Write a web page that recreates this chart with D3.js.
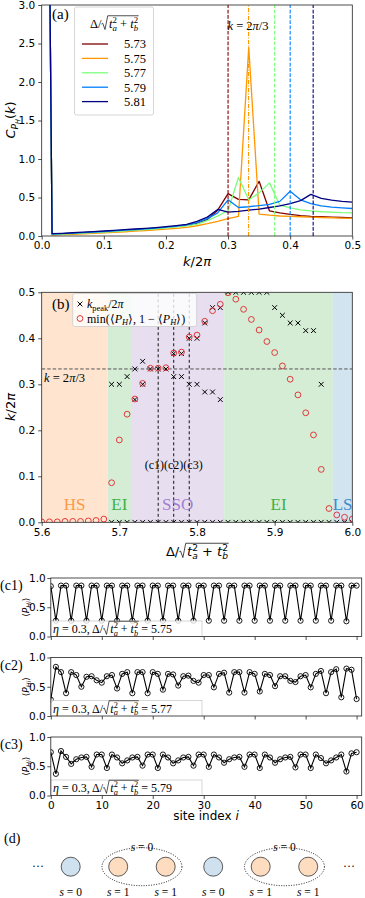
<!DOCTYPE html>
<html>
<head>
<meta charset="utf-8">
<script src="https://cdn.jsdelivr.net/npm/d3@7"></script>
<style>
  body { margin: 0; background: #fff; }
  svg { display: block; }
  text { white-space: pre; }
</style>
</head>
<body>
<svg id="fig" width="365" height="898"></svg>
<script>
var SERIF = "'Liberation Serif', 'Times New Roman', serif";
var SANS = "'DejaVu Sans', sans-serif";

// ---------- (a) structure factor, k/2pi = n/60 ----------
var kGrid = [0, 0.0167, 0.0333, 0.05, 0.0667, 0.0833, 0.1, 0.1167, 0.1333, 0.15, 0.1667,
             0.1833, 0.2, 0.2167, 0.2333, 0.25, 0.2667, 0.2833, 0.3, 0.3167, 0.3333,
             0.35, 0.3667, 0.3833, 0.4, 0.4167, 0.4333, 0.45, 0.4667, 0.4833, 0.5];
var curveLabels = ["5.73", "5.75", "5.77", "5.79", "5.81"];
var curveColors = ["#800000", "#ff9700", "#7bff7b", "#007fff", "#000080"];
var c573 = [15, .024, .029, .035, .042, .049, .056, .064, .072, .081, .09, .1, .111, .124, .139, .165, .215,
            .335, .55, .475, .47, .71, .325, .30, .28, .265, .255, .25, .245, .24, .235];
var c575 = [15, .012, .017, .022, .028, .034, .04, .047, .054, .062, .07, .079, .089, .1, .113, .133, .16,
            .19, .225, .255, 2.45, .285, .27, .26, .255, .25, .245, .24, .237, .233, .23];
var c577 = [15, .02, .025, .031, .037, .043, .05, .058, .066, .075, .084, .094, .105, .118, .132, .155, .2,
            .26, .33, .76, .47, .56, .69, .40, .365, .34, .325, .315, .31, .303, .30];
var c579 = [15, .026, .031, .037, .044, .051, .058, .066, .075, .084, .093, .103, .115, .128, .144, .175, .225,
            .30, .47, .37, .38, .395, .41, .45, .58, .47, .42, .39, .375, .365, .357];
var c581 = [15, .03, .035, .042, .05, .057, .065, .073, .082, .091, .1, .11, .122, .136, .152, .19, .245,
            .345, .31, .32, .335, .35, .37, .39, .42, .46, .54, .49, .465, .45, .44];
var curves = [c573, c575, c577, c579, c581];
var densityLines = [0.300, 0.333, 0.375, 0.400, 0.437];

// ---------- (b) phase diagram ----------
var delta = [5.60, 5.61, 5.62, 5.63, 5.64, 5.65, 5.66, 5.67, 5.68, 5.69, 5.70, 5.71, 5.72, 5.73,
             5.74, 5.75, 5.76, 5.77, 5.78, 5.79, 5.80, 5.81, 5.82, 5.83, 5.84, 5.85, 5.86, 5.87,
             5.88, 5.89, 5.90, 5.91, 5.92, 5.93, 5.94, 5.95, 5.96, 5.97, 5.98, 5.99, 6.00];
var minPH = [0.001, 0.001, 0.001, 0.002, 0.002, 0.002, 0.003, 0.004, 0.007, 0.086, 0.179, 0.235,
             0.268, 0.302, 0.335, 0.335, 0.336, 0.368, 0.370, 0.403, 0.407, 0.437, 0.460, 0.474,
             0.499, 0.485, 0.463, 0.441, 0.418, 0.393, 0.369, 0.340, 0.311, 0.277, 0.238, 0.190,
             0.115, 0.030, 0.016, 0.011, 0.007];
var kPeak = [[5.69, 0.30], [5.70, 0.30], [5.71, 0.3167], [5.72, 0.2667], [5.72, 0.3333],
             [5.73, 0.30], [5.73, 0.35], [5.74, 0.3333], [5.75, 0.3333], [5.76, 0.3333],
             [5.77, 0.3667], [5.77, 0.3167], [5.78, 0.3667], [5.78, 0.3167], [5.79, 0.40],
             [5.79, 0.30], [5.80, 0.40], [5.80, 0.30], [5.81, 0.4333], [5.81, 0.2833],
             [5.82, 0.4667], [5.82, 0.2833], [5.83, 0.4667], [5.83, 0.2667], [5.84, 0.5],
             [5.85, 0.5], [5.86, 0.5], [5.87, 0.5], [5.88, 0.5], [5.89, 0.5], [5.90, 0.4667],
             [5.91, 0.45], [5.92, 0.4333], [5.93, 0.4333], [5.94, 0.4167], [5.95, 0.4167],
             [5.96, 0.30]];
var kPeakZeroFrom = 5.69;
var phases = [
  {name: "HS",  from: 5.600, to: 5.685, fill: "#ffe5cf", text: "#fb9a45"},
  {name: "EI",  from: 5.685, to: 5.715, fill: "#d5ecd5", text: "#3fb045"},
  {name: "SSO", from: 5.715, to: 5.835, fill: "#e7dff0", text: "#a27fd2"},
  {name: "EI",  from: 5.835, to: 5.975, fill: "#d5ecd5", text: "#3fb045"},
  {name: "LS",  from: 5.975, to: 6.000, fill: "#d2e4f0", text: "#3b8ccc"}
];
var cutNames = ["(c1)", "(c2)", "(c3)"];
var cutDelta = [5.75, 5.77, 5.79];

// ---------- (c) site profiles, i = 0..60 ----------
var c1 = [0.86, 0.27, 0.87, 0.87, 0.27, 0.87, 0.87, 0.27, 0.87, 0.87, 0.27, 0.87, 0.87, 0.27, 0.87, 0.87,
          0.27, 0.87, 0.87, 0.27, 0.87, 0.87, 0.27, 0.87, 0.87, 0.27, 0.87, 0.87, 0.27, 0.87, 0.87,
          0.27, 0.87, 0.87, 0.27, 0.87, 0.87, 0.27, 0.87, 0.87, 0.27, 0.87, 0.87, 0.27, 0.87, 0.87,
          0.27, 0.87, 0.87, 0.27, 0.87, 0.87, 0.27, 0.87, 0.87, 0.27, 0.87, 0.87, 0.26, 0.87, 0.87];
var c2 = [0.28, 0.84, 0.75, 0.39, 0.75, 0.70, 0.50, 0.67, 0.68, 0.61, 0.57, 0.68, 0.70, 0.47, 0.72, 0.75,
          0.39, 0.75, 0.75, 0.39, 0.75, 0.72, 0.45, 0.72, 0.71, 0.52, 0.68, 0.69, 0.60, 0.57, 0.70,
          0.70, 0.49, 0.72, 0.74, 0.40, 0.75, 0.75, 0.40, 0.75, 0.72, 0.42, 0.72, 0.70, 0.51, 0.68,
          0.68, 0.60, 0.58, 0.68, 0.70, 0.49, 0.72, 0.77, 0.39, 0.75, 0.80, 0.32, 0.81, 0.79, 0.29];
var c3 = [0.74, 0.37, 0.76, 0.66, 0.54, 0.62, 0.65, 0.66, 0.49, 0.70, 0.70, 0.47, 0.70, 0.65, 0.55, 0.60,
          0.65, 0.66, 0.51, 0.70, 0.70, 0.47, 0.70, 0.65, 0.55, 0.60, 0.65, 0.66, 0.51, 0.70, 0.70,
          0.49, 0.70, 0.65, 0.56, 0.62, 0.65, 0.66, 0.49, 0.70, 0.70, 0.47, 0.70, 0.65, 0.56, 0.62,
          0.65, 0.66, 0.48, 0.70, 0.70, 0.47, 0.70, 0.64, 0.55, 0.60, 0.65, 0.70, 0.41, 0.72, 0.74];
var profiles = [c1, c2, c3];
var profileDelta = ["5.75", "5.77", "5.79"];
var siteTicks = [0, 10, 20, 30, 40, 50, 60];

// ---------- (d) cartoon ----------
var dSpins = [0, 1, 1, 0, 1, 1];
var dFill = ["#cfe0ee", "#fddcc0"];

var svg = d3.select("#fig");
var defs = svg.append("defs");

function clipFor(id, x, y) {
  defs.append("clipPath").attr("id", id).append("rect")
    .attr("x", x.range()[0]).attr("y", y.range()[1])
    .attr("width", x.range()[1] - x.range()[0]).attr("height", y.range()[0] - y.range()[1]);
}

function styleAxis(sel) {
  sel.select(".domain").remove();
  sel.selectAll(".tick line").attr("stroke", "#222").attr("stroke-width", 0.8);
  sel.selectAll(".tick text").attr("font-family", SANS).attr("font-size", 10.5).attr("fill", "#000");
}

function drawAxes(x, y, xt, yt, xfmt, yfmt, ypad) {
  svg.append("g").attr("transform", "translate(0," + y.range()[0] + ")")
    .call(d3.axisBottom(x).tickValues(xt).tickFormat(xfmt).tickSize(3.5).tickPadding(2.5))
    .call(styleAxis);
  svg.append("g").attr("transform", "translate(" + x.range()[0] + ",0)")
    .call(d3.axisLeft(y).tickValues(yt).tickFormat(yfmt).tickSize(3.5).tickPadding(ypad || 3))
    .call(styleAxis);
  svg.append("rect")
    .attr("x", x.range()[0]).attr("y", y.range()[1])
    .attr("width", x.range()[1] - x.range()[0]).attr("height", y.range()[0] - y.range()[1])
    .attr("fill", "none").attr("stroke", "#222").attr("stroke-width", 0.8);
}

// small math-text layout in one <text>: tspans placed in turn, sub/sup stacked, drawn radical
function mtext(parent, parts, o) {
  var s = o.size, fill = o.fill || "#000";
  var g = parent.append("g").attr("fill", fill);
  var txt = g.append("text").attr("font-family", o.fam || SERIF).attr("font-size", s);
  var cx = 0, prevX = 0, radX = null, radEnd = null;
  parts.forEach(function(p) {
    if (typeof p === "string") p = {t: p};
    if (p.rad) { radX = cx; cx += s * 0.6; return; }
    if (p.radEnd) { radEnd = cx + s * 0.05; return; }
    var fs = p.ss ? s * 0.5 : (p.sub || p.sup) ? s * 0.7 : s;
    var dy = p.ss ? s * 0.4 : p.sub ? s * 0.22 : p.sup ? -s * 0.38 : 0;
    var x0 = p.stack ? prevX : cx;
    var t = txt.append("tspan").attr("x", x0).attr("y", dy).attr("font-size", fs).text(p.t);
    if (p.it) t.attr("font-style", "italic");
    var w = t.node().getComputedTextLength();
    if (p.stack) cx = Math.max(cx, x0 + w);
    else { prevX = x0; cx = x0 + w; }
  });
  if (radX !== null) {
    var e = radEnd === null ? cx + s * 0.05 : radEnd;
    g.append("path")
      .attr("d", "M" + radX + "," + (-0.32 * s) + "L" + (radX + 0.1 * s) + "," + (-0.38 * s) +
                 "L" + (radX + 0.28 * s) + "," + (0.12 * s) + "L" + (radX + 0.5 * s) + "," + (-0.98 * s) +
                 "L" + e + "," + (-0.98 * s))
      .attr("fill", "none").attr("stroke", fill).attr("stroke-width", Math.max(0.6, s * 0.055));
  }
  var dx = o.anchor === "middle" ? -cx / 2 : o.anchor === "end" ? -cx : 0;
  g.attr("transform", "translate(" + o.x + "," + o.y + ")" + (o.rot ? " rotate(" + o.rot + ")" : "") +
                      " translate(" + dx + ",0)");
  return g;
}
var sqrtParts = [{rad: true}, {t: "t", it: true}, {t: "a", it: true, sub: true}, {t: "2", sup: true, stack: true},
                 " + ", {t: "t", it: true}, {t: "b", it: true, sub: true}, {t: "2", sup: true, stack: true}, {radEnd: true}];

// ================= panel (a) =================
var xa = d3.scaleLinear().domain([0, 0.5]).range([41.7, 352.3]);
var ya = d3.scaleLinear().domain([0, 3]).range([236, 5]);
clipFor("clipA", xa, ya);
var gA = svg.append("g").attr("clip-path", "url(#clipA)");
var lineA = d3.line().x(function(d, i) { return xa(kGrid[i]); }).y(function(d) { return ya(d); });
curves.forEach(function(c, i) {
  gA.append("path").datum(c).attr("d", lineA).attr("fill", "none")
    .attr("stroke", curveColors[i]).attr("stroke-width", 1.3).attr("stroke-linejoin", "round");
});
densityLines.forEach(function(v, i) {
  gA.append("line").attr("x1", xa(v)).attr("x2", xa(v)).attr("y1", ya(0)).attr("y2", ya(3))
    .attr("stroke", curveColors[i]).attr("stroke-width", 1.1)
    .attr("stroke-dasharray", i === 1 ? "4,1.5,1,1.5" : "3.7,1.6");
});
drawAxes(xa, ya, [0, 0.1, 0.2, 0.3, 0.4, 0.5], [0, 0.5, 1, 1.5, 2, 2.5, 3], d3.format(".1f"), d3.format(".1f"));

mtext(svg, [{t: "k", it: true}, " = 2", {t: "π", it: true}, "/3"], {x: 248, y: 30, size: 12.5, anchor: "middle"});
svg.append("text").attr("x", 52).attr("y", 19).attr("font-family", SERIF).attr("font-size", 15).text("(a)");

var legA = svg.append("g");
legA.append("rect").attr("x", 74.5).attr("y", 7).attr("width", 79).attr("height", 108).attr("rx", 2)
  .attr("fill", "#fff").attr("fill-opacity", 0.8).attr("stroke", "#ccc").attr("stroke-width", 0.8);
mtext(legA, ["Δ/"].concat(sqrtParts), {x: 114, y: 28, size: 12.5, anchor: "middle"});
curveLabels.forEach(function(lab, i) {
  var yy = 44 + i * 14.4;
  legA.append("line").attr("x1", 82).attr("x2", 108).attr("y1", yy).attr("y2", yy)
    .attr("stroke", curveColors[i]).attr("stroke-width", 1.3);
  legA.append("text").attr("x", 124).attr("y", yy + 4.3).attr("font-family", SERIF).attr("font-size", 12.5).text(lab);
});

mtext(svg, [{t: "C", it: true}, {t: "P", it: true, sub: true}, {t: "H", it: true, ss: true}, "(", {t: "k", it: true}, ")"],
      {x: 15, y: 120, size: 13, fam: SANS, anchor: "middle", rot: -90});
mtext(svg, [{t: "k", it: true}, "/2", {t: "π", it: true}], {x: 197, y: 266, size: 13, fam: SANS, anchor: "middle"});

// ================= panel (b) =================
var xb = d3.scaleLinear().domain([5.6, 6.0]).range([41.7, 352.3]);
var yb = d3.scaleLinear().domain([0, 0.5]).range([522.3, 292.3]);
clipFor("clipB", xb, yb);
var gB = svg.append("g").attr("clip-path", "url(#clipB)");
gB.selectAll("rect.phase").data(phases).enter().append("rect").attr("class", "phase")
  .attr("x", function(d) { return xb(d.from); }).attr("width", function(d) { return xb(d.to) - xb(d.from); })
  .attr("y", yb(0.5)).attr("height", yb(0) - yb(0.5)).attr("fill", function(d) { return d.fill; });
gB.append("line").attr("x1", xb(5.6)).attr("x2", xb(6.0)).attr("y1", yb(1 / 3)).attr("y2", yb(1 / 3))
  .attr("stroke", "#555").attr("stroke-width", 1).attr("stroke-dasharray", "3.5,2");
cutDelta.forEach(function(d) {
  gB.append("line").attr("x1", xb(d)).attr("x2", xb(d)).attr("y1", yb(0)).attr("y2", yb(0.5))
    .attr("stroke", "#111").attr("stroke-width", 1).attr("stroke-dasharray", "3,2.5");
});
var crossPath = "M-2.4,-2.4L2.4,2.4M-2.4,2.4L2.4,-2.4";
var zeroPeaks = delta.filter(function(d) { return d >= kPeakZeroFrom - 1e-9; }).map(function(d) { return [d, 0]; });
gB.selectAll("path.kp").data(kPeak.concat(zeroPeaks)).enter().append("path").attr("class", "kp")
  .attr("d", crossPath).attr("transform", function(d) { return "translate(" + xb(d[0]) + "," + yb(d[1]) + ")"; })
  .attr("stroke", "#000").attr("stroke-width", 1).attr("fill", "none");
gB.selectAll("circle.ph").data(minPH).enter().append("circle").attr("class", "ph")
  .attr("cx", function(d, i) { return xb(delta[i]); }).attr("cy", function(d) { return yb(d); })
  .attr("r", 2.9).attr("fill", "none").attr("stroke", "#e0393b").attr("stroke-width", 1);
drawAxes(xb, yb, [5.6, 5.7, 5.8, 5.9, 6.0], [0, 0.1, 0.2, 0.3, 0.4, 0.5], d3.format(".1f"), d3.format(".1f"));

phases.forEach(function(p) {
  svg.append("text").attr("x", xb((p.from + p.to) / 2)).attr("y", 510).attr("text-anchor", "middle")
    .attr("font-family", SERIF).attr("font-size", 17).attr("fill", p.text).text(p.name);
});
// cut labels sit side by side, centred on the middle cut line
var cutText = svg.append("text").attr("x", xb(cutDelta[1])).attr("y", 469).attr("text-anchor", "middle")
  .attr("font-family", SERIF).attr("font-size", 12);
cutNames.forEach(function(n) { cutText.append("tspan").text(n); });

mtext(svg, [{t: "k", it: true}, " = 2", {t: "π", it: true}, "/3"], {x: 44, y: 382, size: 12.5});
svg.append("text").attr("x", 52).attr("y", 309).attr("font-family", SERIF).attr("font-size", 15).text("(b)");

var legB = svg.append("g");
legB.append("rect").attr("x", 72.7).attr("y", 293.5).attr("width", 124).attr("height", 33).attr("rx", 2)
  .attr("fill", "#fff").attr("fill-opacity", 0.8).attr("stroke", "#ccc").attr("stroke-width", 0.8);
legB.append("path").attr("d", crossPath).attr("transform", "translate(80,304)").attr("stroke", "#000").attr("fill", "none");
legB.append("circle").attr("cx", 80).attr("cy", 318.5).attr("r", 2.9).attr("fill", "none").attr("stroke", "#e0393b");
mtext(legB, [{t: "k", it: true}, {t: "peak", sub: true}, "/2", {t: "π", it: true}], {x: 87, y: 308, size: 12});
mtext(legB, ["min(⟨", {t: "P", it: true}, {t: "H", it: true, sub: true}, "⟩, 1 − ⟨", {t: "P", it: true},
             {t: "H", it: true, sub: true}, "⟩)"], {x: 87, y: 322.5, size: 12});

mtext(svg, [{t: "k", it: true}, "/2", {t: "π", it: true}], {x: 15, y: 407, size: 13, fam: SANS, anchor: "middle", rot: -90});
mtext(svg, ["Δ/"].concat(sqrtParts), {x: 197, y: 556, size: 13, fam: SANS, anchor: "middle"});

// ================= panels (c1)-(c3) =================
var xc = d3.scaleLinear().domain([0, 61]).range([50.8, 361.7]);
var cTops = [578, 657.5, 737];
var cH = 58.5;
profiles.forEach(function(vals, k) {
  var yc = d3.scaleLinear().domain([0, 1]).range([cTops[k] + cH, cTops[k]]);
  clipFor("clipC" + k, xc, yc);
  var g = svg.append("g").attr("clip-path", "url(#clipC" + k + ")");
  g.append("path").datum(vals)
    .attr("d", d3.line().x(function(d, i) { return xc(i); }).y(function(d) { return yc(d); }))
    .attr("fill", "none").attr("stroke", "#000").attr("stroke-width", 1.1);
  g.selectAll("circle").data(vals).enter().append("circle")
    .attr("cx", function(d, i) { return xc(i); }).attr("cy", function(d) { return yc(d); })
    .attr("r", 2.6).attr("fill", "none").attr("stroke", "#000").attr("stroke-width", 0.9);
  // annotation box
  var ann = g.append("g");
  ann.append("rect").attr("x", 51).attr("y", yc(0) - 15.5).attr("width", 151).attr("height", 17)
    .attr("fill", "#fff").attr("fill-opacity", 0.8).attr("stroke", "#bbb").attr("stroke-width", 0.6);
  mtext(ann, [{t: "η", it: true}, " = 0.3, Δ/"].concat(sqrtParts, [" = " + profileDelta[k]]),
        {x: 53, y: yc(0) - 3.5, size: 12});
  drawAxes(xc, yc, siteTicks, [0, 0.5, 1], k === 2 ? d3.format("d") : function() { return ""; }, d3.format(".1f"), 1.5);
  svg.append("text").attr("x", 0).attr("y", cTops[k] + 12).attr("font-family", SERIF).attr("font-size", 14)
    .text("(c" + (k + 1) + ")");
  mtext(svg, ["⟨", {t: "P", it: true}, {t: "Hi", it: true, sub: true}, "⟩"],
        {x: 29, y: cTops[k] + cH / 2, size: 9, fam: SANS, anchor: "middle", rot: -90});
});
mtext(svg, ["site index ", {t: "i", it: true}], {x: 206, y: 820, size: 12, fam: SANS, anchor: "middle"});

// ================= panel (d) =================
svg.append("text").attr("x", 4).attr("y", 843).attr("font-family", SERIF).attr("font-size", 14).text("(d)");
var xd = d3.scalePoint().domain(d3.range(dSpins.length)).range([70.7, 308.2]);
var yd = 866.7;
[1, 4].forEach(function(i) {
  var cx = (xd(i) + xd(i + 1)) / 2;
  svg.append("ellipse").attr("cx", cx).attr("cy", yd).attr("rx", 40).attr("ry", 19)
    .attr("fill", "none").attr("stroke", "#000").attr("stroke-width", 0.9).attr("stroke-dasharray", "1,1.5");
  mtext(svg, [{t: "s", it: true}, " = 0"], {x: cx, y: 851, size: 11.5, anchor: "middle"});
});
svg.selectAll("circle.site").data(dSpins).enter().append("circle").attr("class", "site")
  .attr("cx", function(d, i) { return xd(i); }).attr("cy", yd).attr("r", 9.5)
  .attr("fill", function(d) { return dFill[d]; }).attr("stroke", "#333").attr("stroke-width", 0.8);
dSpins.forEach(function(s, i) {
  mtext(svg, [{t: "s", it: true}, " = " + s], {x: xd(i), y: 896, size: 11.5, anchor: "middle"});
});
[38, 349].forEach(function(x) {
  svg.append("text").attr("x", x).attr("y", 870).attr("text-anchor", "middle")
    .attr("font-family", SERIF).attr("font-size", 12).attr("fill", "#000").text("···");
});
</script>
</body>
</html>
